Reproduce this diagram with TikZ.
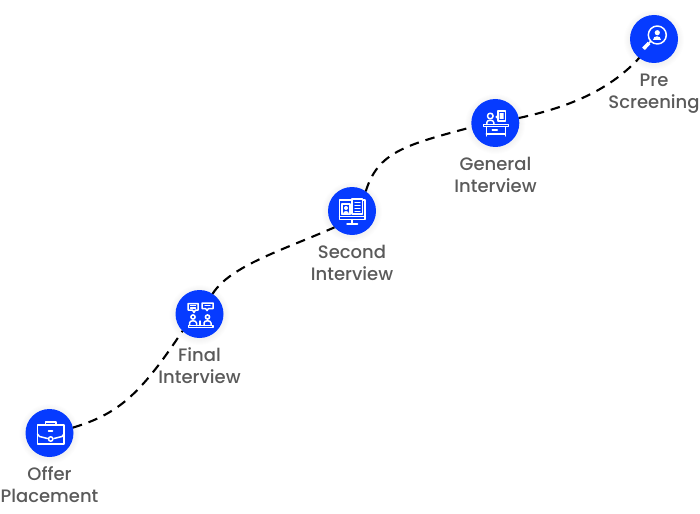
\documentclass[tikz,border=0pt]{standalone}
\usepackage{fontspec}
\setmainfont{Poppins}[UprightFont=* Medium]
\definecolor{stepblue}{HTML}{063BFF}
\definecolor{labelgrey}{HTML}{5A5A5A}
\tikzset{
  stepdot/.style={circle,fill=stepblue,minimum size=48pt,inner sep=0pt,outer sep=0pt},
  steplabel/.style={align=center,text=labelgrey,font=\fontsize{18}{22}\selectfont,inner sep=0pt},
  route/.style={black,line width=2.1pt,dash pattern=on 9.5pt off 7pt},
  ico/.style={white,line width=1.5pt,line join=round,line cap=round},
  halo/.style={fill=black,draw=none,opacity=0.008}
}
\newcommand{\halocircle}[2]{%
  \foreach \rr in {25,26,27,28,29,30}{\fill[halo] (#1,#2+1) circle (\rr pt);}}
\begin{document}
\begin{tikzpicture}[x=1pt,y=-1pt]
\useasboundingbox (0,0) rectangle (700,513);
\halocircle{654}{39}\halocircle{495.3}{123}\halocircle{352}{211}\halocircle{199.5}{314}\halocircle{49.5}{433}
\node[stepdot] (pre) at (654,39) {};
\node[stepdot] (general) at (495.3,123) {};
\node[stepdot] (second) at (352,211) {};
\node[stepdot] (final) at (199.5,314) {};
\node[stepdot] (offer) at (49.5,433) {};
\node[steplabel] (lpre) at (654,94) {Pre\\Screening};
\node[steplabel] (lgeneral) at (495.5,175) {General\\Interview};
\node[steplabel] (lsecond) at (352,263) {Second\\Interview};
\node[steplabel] (lfinal) at (199.5,366) {Final\\Interview};
\node[steplabel] (loffer) at (49.5,485) {Offer\\Placement};
\draw[route] (offer.13) .. controls (118,414) and (140,395) .. (final.225);
\draw[route] (final.57) .. controls (230,266) and (283,250) .. (second.223);
\draw[route] (second.55) .. controls (378,152) and (405,145) .. (general.190);
\draw[route] (general.12) .. controls (565,108) and (608,92) .. (pre.232);
% Pre Screening icon
\begin{scope}[shift={(654,39)}]
\draw[ico] (3.3,-4) circle (9);
\fill[white] (3.3,-6.3) circle (2.6);
\fill[white] (-0.6,0.8) .. controls (-0.6,-3.5) and (7.2,-3.5) .. (7.2,0.8) -- cycle;
\draw[ico] (-3.5,2.5) -- (-5,4);
\draw[ico,line width=3.6pt,line cap=butt] (-5,4) -- (-10.5,9.8);
\end{scope}
% General Interview icon
\begin{scope}[shift={(495.3,123)}]
\draw[ico] (-12,1.5) -- (13,1.5) -- (13,3.7) -- (-12,3.7) -- cycle;
\draw[ico] (-9,3.7) -- (-9,13) (10,3.7) -- (10,13) (-9,11) -- (10,11);
\draw[ico] (-3,7.2) -- (2,7.2);
\draw[ico] (-5,-7) circle (2.8);
\draw[ico] (-8.5,1.5) -- (-8.5,-0.5) .. controls (-8.5,-3.5) and (-1.5,-3.5) .. (-1.5,-0.5) -- (-1.5,1.5);
\draw[ico] (2.5,-12) rectangle (10,-2);
\draw[ico,line width=1.1pt] (4.7,-9) -- (8,-9) (4.7,-7) -- (8,-7) (4.7,-5) -- (8,-5);
\draw[ico,line width=1.1pt] (2.5,-7.5) -- (0.7,-6) -- (2.5,-4.5);
\end{scope}
% Second Interview icon
\begin{scope}[shift={(352,211)}]
\draw[ico] (1,8.5) -- (-12.5,8.5) -- (-12.5,-11) -- (-1,-11) (10.5,-11) -- (13,-11) -- (13,8.5) -- (1,8.5);
\draw[ico] (-12.5,5.5) -- (13,5.5);
\draw[ico] (0,8.5) -- (0,12.5) (-5,13) -- (5.5,13);
\draw[ico] (-10,-7) rectangle (-2,3.5);
\fill[white] (-6,-3) circle (2);
\fill[white] (-8.8,2.5) .. controls (-8.8,-1.5) and (-3.2,-1.5) .. (-3.2,2.5) -- cycle;
\draw[ico] (0,-12) rectangle (10.5,3);
\draw[ico,line width=1.1pt] (3,-8.5) -- (8,-8.5) (3,-5.5) -- (8,-5.5) (3,-2.5) -- (8,-2.5) (3,0.5) -- (8,0.5);
\end{scope}
% Final Interview icon
\begin{scope}[shift={(199.5,314)}]
\draw[ico] (-11.5,-10.5) -- (-1.5,-10.5) -- (-1.5,-4) -- (-4,-4) -- (-5.5,-1.5) -- (-7,-4) -- (-11.5,-4) -- cycle;
\draw[ico,line width=1.1pt] (-9,-8.2) -- (-4,-8.2) (-9,-6) -- (-4,-6);
\draw[ico] (2.5,-11) -- (13.5,-11) -- (13.5,-5.5) -- (9,-5.5) -- (7.5,-3.5) -- (6,-5.5) -- (2.5,-5.5) -- cycle;
\draw[ico,line width=1.1pt] (5.5,-8.3) -- (10.5,-8.3);
\draw[ico] (-11,11.5) rectangle (13.5,13.5);
\draw[ico] (-6.5,3) circle (2.1);
\draw[ico] (8,3) circle (2.1);
\draw[ico] (-10,11.5) -- (-10,9) .. controls (-10,6) and (-3,6) .. (-3,9) -- (-3,11.5);
\draw[ico] (4.5,11.5) -- (4.5,9) .. controls (4.5,6) and (11.5,6) .. (11.5,9) -- (11.5,11.5);
\draw[ico] (0.5,7) -- (0.5,11.5);
\end{scope}
% Offer Placement icon
\begin{scope}[shift={(49.5,433)}]
\draw[ico] (-12,-8) rectangle (14.5,11);
\draw[ico] (-4,-8) -- (-4,-11) -- (6.5,-11) -- (6.5,-8);
\draw[ico] (-12,1) -- (-10,3.5) -- (-2,5.5) (4.5,5.5) -- (12.5,3.5) -- (14.5,1);
\draw[ico] (1.2,6) circle (2.2);
\draw[ico] (-1,-2.2) -- (3,-2.2);
\end{scope}
\end{tikzpicture}
\end{document}
